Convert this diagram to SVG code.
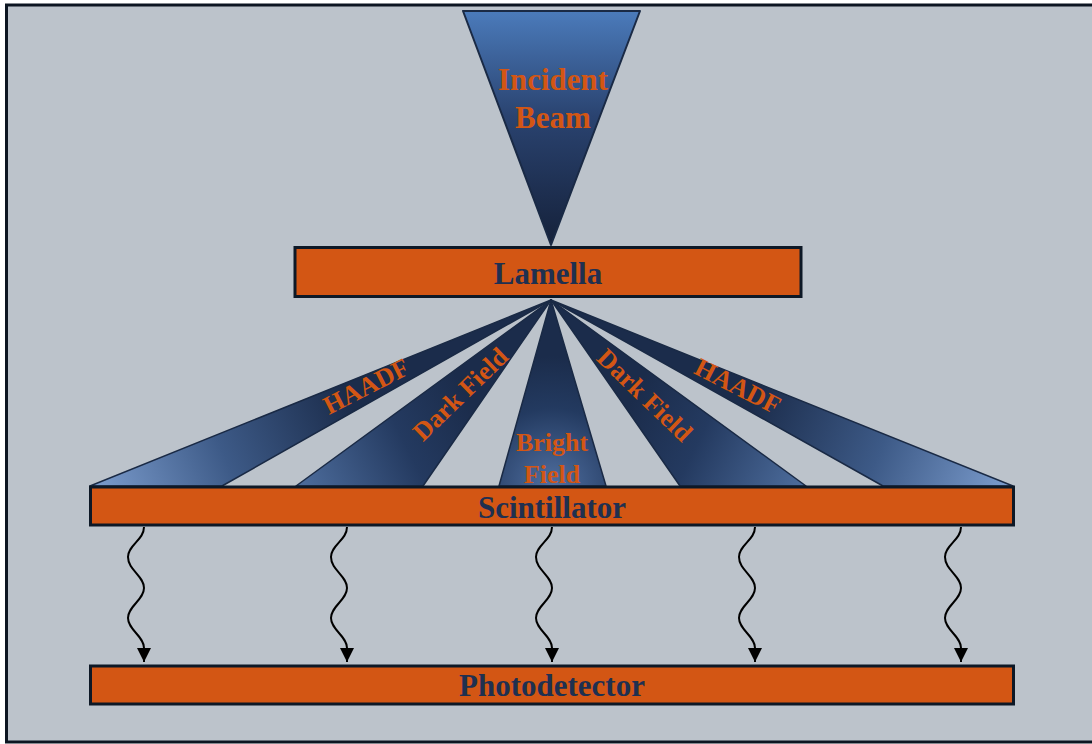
<svg xmlns="http://www.w3.org/2000/svg" width="1092" height="744" viewBox="0 0 1092 744">
  <style>
    .bar { fill: #d35614; stroke: #0d1826; stroke-width: 3; }
    .barText { font-family: "Liberation Serif", "Times New Roman", serif; font-weight: bold; font-size: 31px; fill: #1f3050; text-anchor: middle; }
    .beamText { font-family: "Liberation Serif", "Times New Roman", serif; font-weight: bold; font-size: 26px; fill: #d35614; text-anchor: middle; }
    .beam { stroke: #1a2a45; stroke-width: 1.5; stroke-linejoin: round; }
    .wave { fill: none; stroke: #000; stroke-width: 2; }
  </style>
  <defs>
    <linearGradient id="gIncident" x1="0" y1="0" x2="0" y2="1">
      <stop offset="0" stop-color="#4b7bbb"/>
      <stop offset="0.45" stop-color="#2a4370"/>
      <stop offset="1" stop-color="#15213a"/>
    </linearGradient>
    <linearGradient id="gHL" gradientUnits="userSpaceOnUse" x1="90" y1="486" x2="340" y2="380">
      <stop offset="0" stop-color="#7d9ecf"/>
      <stop offset="0.5" stop-color="#3d5a87"/>
      <stop offset="1" stop-color="#1b2c4b"/>
    </linearGradient>
    <linearGradient id="gDL" gradientUnits="userSpaceOnUse" x1="296" y1="486" x2="470" y2="400">
      <stop offset="0" stop-color="#4e6e9e"/>
      <stop offset="0.6" stop-color="#243a60"/>
      <stop offset="1" stop-color="#1b2c4b"/>
    </linearGradient>
    <radialGradient id="gBF" gradientUnits="userSpaceOnUse" cx="552" cy="486" r="130">
      <stop offset="0" stop-color="#506fa0"/>
      <stop offset="0.6" stop-color="#233a60"/>
      <stop offset="1" stop-color="#1b2c4b"/>
    </radialGradient>
    <linearGradient id="gDR" gradientUnits="userSpaceOnUse" x1="806" y1="486" x2="632" y2="400">
      <stop offset="0" stop-color="#4e6e9e"/>
      <stop offset="0.6" stop-color="#243a60"/>
      <stop offset="1" stop-color="#1b2c4b"/>
    </linearGradient>
    <linearGradient id="gHR" gradientUnits="userSpaceOnUse" x1="1013" y1="486" x2="762" y2="380">
      <stop offset="0" stop-color="#7d9ecf"/>
      <stop offset="0.5" stop-color="#3d5a87"/>
      <stop offset="1" stop-color="#1b2c4b"/>
    </linearGradient>
    <marker id="arrow" viewBox="0 0 10 10" refX="10" refY="5" markerWidth="14" markerHeight="14" markerUnits="userSpaceOnUse" orient="auto">
      <path d="M0,0 L10,5 L0,10 z" fill="#000"/>
    </marker>
  </defs>

  <rect x="0" y="0" width="1092" height="744" fill="#ffffff"/>
  <rect id="frame" x="6.5" y="5" width="1100" height="737" fill="#bcc3cb" stroke="#0c1521" stroke-width="3"/>

  <g id="incident-beam">
    <polygon points="463,11 640,11 551,245" fill="url(#gIncident)" stroke="#1a2a45" stroke-width="2" stroke-linejoin="round"/>
    <text class="barText" x="553" y="90" fill="#d35614" style="fill:#d35614">Incident</text>
    <text class="barText" x="553" y="128" style="fill:#d35614">Beam</text>
  </g>

  <g id="beam-haadf-left">
    <polygon class="beam" points="551,300 90,486 222,486" fill="url(#gHL)"/>
    <text class="beamText" transform="translate(366,386) rotate(-27)" y="9">HAADF</text>
  </g>
  <g id="beam-darkfield-left">
    <polygon class="beam" points="551,300 296,486 423,486" fill="url(#gDL)"/>
    <text class="beamText" transform="translate(460,394) rotate(-44)" y="9">Dark Field</text>
  </g>
  <g id="beam-brightfield">
    <polygon class="beam" points="551,300 499,486 606,486" fill="url(#gBF)"/>
    <text class="beamText" x="552" y="451">Bright</text>
    <text class="beamText" x="552" y="483">Field</text>
  </g>
  <g id="beam-darkfield-right">
    <polygon class="beam" points="551,300 680,486 806,486" fill="url(#gDR)"/>
    <text class="beamText" transform="translate(645,395) rotate(44)" y="9">Dark Field</text>
  </g>
  <g id="beam-haadf-right">
    <polygon class="beam" points="551,300 883,486 1013,486" fill="url(#gHR)"/>
    <text class="beamText" transform="translate(738,386) rotate(27)" y="9">HAADF</text>
  </g>

  <g id="lamella">
    <rect class="bar" x="295" y="247.5" width="506" height="49"/>
    <text class="barText" x="548" y="284">Lamella</text>
  </g>

  <g id="scintillator">
    <rect class="bar" x="90.5" y="487" width="923" height="38"/>
    <text class="barText" x="552" y="518">Scintillator</text>
  </g>

  <g id="photodetector">
    <rect class="bar" x="90.5" y="666" width="923" height="38"/>
    <text class="barText" x="552" y="696">Photodetector</text>
  </g>

  <g id="connectors">
    <path class="wave" marker-end="url(#arrow)" d="M144,527 C144,540 128,545 128,557 C128,570 144,576 144,588 C144,600 128,606 128,618 C128,630 144,636 144,648 L144,662"/>
    <path class="wave" marker-end="url(#arrow)" d="M347,527 C347,540 331,545 331,557 C331,570 347,576 347,588 C347,600 331,606 331,618 C331,630 347,636 347,648 L347,662"/>
    <path class="wave" marker-end="url(#arrow)" d="M552,527 C552,540 536,545 536,557 C536,570 552,576 552,588 C552,600 536,606 536,618 C536,630 552,636 552,648 L552,662"/>
    <path class="wave" marker-end="url(#arrow)" d="M755,527 C755,540 739,545 739,557 C739,570 755,576 755,588 C755,600 739,606 739,618 C739,630 755,636 755,648 L755,662"/>
    <path class="wave" marker-end="url(#arrow)" d="M961,527 C961,540 945,545 945,557 C945,570 961,576 961,588 C961,600 945,606 945,618 C945,630 961,636 961,648 L961,662"/>
  </g>
</svg>
